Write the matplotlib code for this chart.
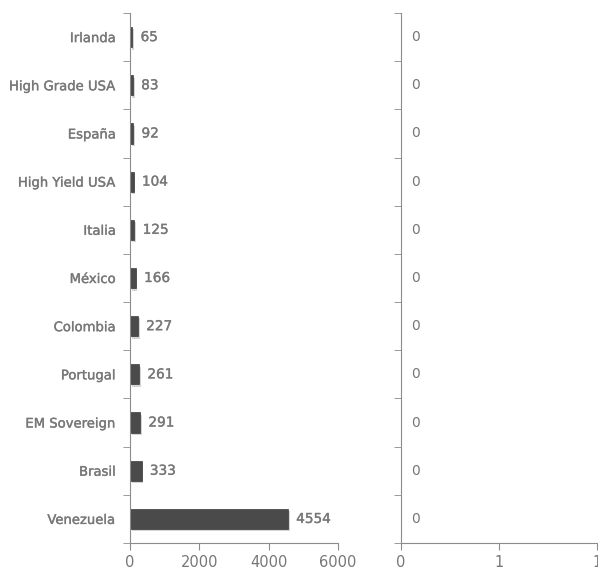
import matplotlib
matplotlib.use("Agg")
import matplotlib.pyplot as plt
import matplotlib.patheffects as pe

categories = ["Venezuela", "Brasil", "EM Sovereign", "Portugal", "Colombia",
              "México", "Italia", "High Yield USA", "España", "High Grade USA", "Irlanda"]
values = [4554, 333, 291, 261, 227, 166, 125, 104, 92, 83, 65]
right_values = [0] * len(categories)
left_xticks = [0, 2000, 4000, 6000]
right_xticks = [0, 0.5, 1]
right_xticklabels = ["0", "1", "1"]

GRAY = "#777777"
SPINE = "#8c8c8c"
BAR = "#4a4a4a"
heavy = [pe.withStroke(linewidth=0.3, foreground="#8a8a8a")]

fig = plt.figure(figsize=(5.98, 5.69), dpi=100)
W, H = 598, 569
ax1 = fig.add_axes([130 / W, 1 - 543 / H, 208 / W, 530 / H])
ax2 = fig.add_axes([401 / W, 1 - 543 / H, 196 / W, 530 / H])

pos = range(len(categories))

# sombra + barra
ax1.barh([p - 0.05 for p in pos], values, height=0.42, left=50, color="#d4d4d4", zorder=1)
ax1.barh(pos, values, height=0.42, color=BAR, edgecolor="#3a3a3a", linewidth=0.5, zorder=2)
for p, v in zip(pos, values):
    ax1.annotate(str(v), (v, p), xytext=(6, 0), textcoords="offset points",
                 va="center", ha="left", fontsize=9.8, color=GRAY, path_effects=heavy)

ax1.set_xlim(0, 6000)
ax1.set_ylim(-0.5, len(categories) - 0.5)
ax1.set_xticks(left_xticks)
ax1.set_yticks([p for p in pos])
ax1.set_yticklabels(categories, fontsize=9.5, color=GRAY)
for t in ax1.get_yticklabels():
    t.set_path_effects(heavy)
ax1.set_yticks([p - 0.5 for p in range(len(categories) + 1)], minor=True)

for p, v in zip(pos, right_values):
    ax2.annotate(str(v), (v, p), xytext=(7, 0), textcoords="offset points",
                 va="center", ha="left", fontsize=10, color=GRAY)
ax2.set_xlim(0, 1)
ax2.set_ylim(-0.5, len(categories) - 0.5)
ax2.set_xticks(right_xticks)
ax2.set_xticklabels(right_xticklabels)
ax2.set_yticks([])
ax2.set_yticks([p - 0.5 for p in range(len(categories) + 1)], minor=True)

for ax in (ax1, ax2):
    for s in ("top", "right"):
        ax.spines[s].set_visible(False)
    for s in ("left", "bottom"):
        ax.spines[s].set_color(SPINE)
    ax.tick_params(axis="y", which="major", length=0, pad=10)
    ax.tick_params(axis="y", which="minor", length=5, color=SPINE)
    ax.tick_params(axis="x", length=5, color=SPINE, labelcolor=GRAY, labelsize=10.5)

ax2.set_facecolor("none")

fig.savefig("out.png", dpi=100)
